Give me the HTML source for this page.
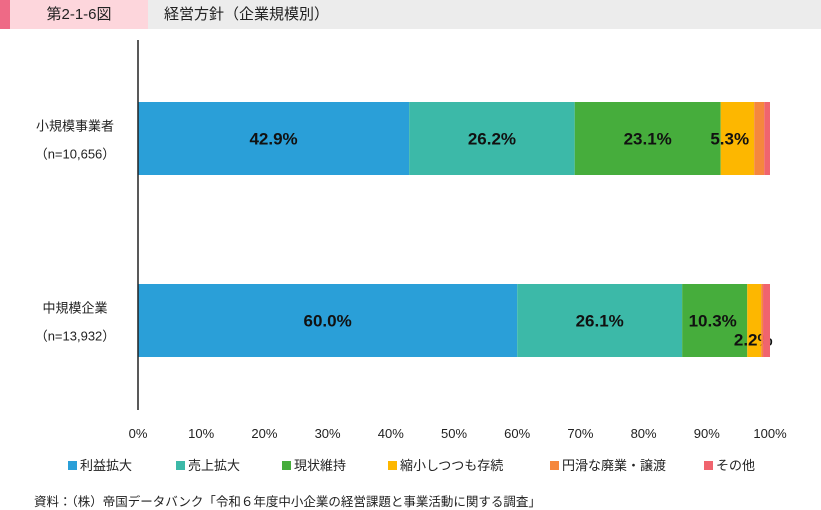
<!DOCTYPE html>
<html><head><meta charset="utf-8"><style>
body{margin:0;width:821px;height:510px;background:#fff;font-family:"Liberation Sans","Noto Sans CJK JP",sans-serif;position:relative;overflow:hidden}
.abs{position:absolute}
</style></head><body>
<div class="abs" style="left:0;top:0;width:10px;height:29px;background:#ee6a86"></div>
<div class="abs" style="left:10px;top:0;width:138px;height:29px;background:#fdd6dc;font-size:15px;line-height:29px;text-align:center;color:#222">第2-1-6図</div>
<div class="abs" style="left:148px;top:0;width:673px;height:29px;background:#ececec;font-size:15px;line-height:29px;color:#222;padding-left:16px;box-sizing:border-box">経営方針（企業規模別）</div>
<svg class="abs" style="left:0;top:0" width="821" height="510" id="chart"></svg>
<div class="abs" style="left:34px;top:491px;font-size:12.5px;color:#222">資料：（株）帝国データバンク「令和６年度中小企業の経営課題と事業活動に関する調査」</div>
<script>
const categories=["小規模事業者","中規模企業"];
const nLabels=["（n=10,656）","（n=13,932）"];
const seriesNames=["利益拡大","売上拡大","現状維持","縮小しつつも存続","円滑な廃業・譲渡","その他"];
const s1=[42.9,26.1-0+0.0,0,0,0,0];
const small=[42.9,26.2,23.1,5.3,1.6,0.9];
const mid=[60.0,26.1,10.3,2.2,0.3,1.1];
const values=[small,mid];
const showLabel=[[true,true,true,true,false,false],[true,true,true,true,false,false]];
const ticks=[0,10,20,30,40,50,60,70,80,90,100];
const colors=["#2a9fd8","#3cb9a8","#46ad3c","#fdb700","#f5873d","#f0646e"];
const svg=document.getElementById('chart');
const NS="http://www.w3.org/2000/svg";
const x=v=>138+v*6.32;
const barY=[102,284],barH=73;
function mk(t,a){const e=document.createElementNS(NS,t);for(const k in a)e.setAttribute(k,a[k]);svg.appendChild(e);return e;}
values.forEach((row,i)=>{let acc=0;row.forEach((v,j)=>{
 const r=mk('rect',{x:x(acc),y:barY[i],width:v*6.32,height:barH,fill:colors[j]});
 
 
 if(showLabel[i][j]){let cx=x(acc+v/2),cy=barY[i]+barH/2+6;
  if(i==0&&j==3)cx=x(acc)+9;
  if(i==1&&j==2)cx=x(acc+v/2)-2;
  if(i==1&&j==3){cx=x(acc)+6;cy=barY[i]+barH/2+25;}
  const t=mk('text',{x:cx,y:cy,'text-anchor':'middle','font-size':17,'font-weight':'bold',fill:'#111'});t.textContent=v.toFixed(1)+'%';
  
  }
 acc+=v;});
 const c=mk('text',{x:75,y:barY[i]+barH/2-8,'text-anchor':'middle','font-size':13,fill:'#222'});c.textContent=categories[i];
 
 
 const n=mk('text',{x:75,y:barY[i]+barH/2+20,'text-anchor':'middle','font-size':13,fill:'#222'});n.textContent=nLabels[i];
 
 
});
const ax=mk('line',{x1:138,y1:40,x2:138,y2:410,stroke:'#222','stroke-width':1.5});


ticks.forEach(tk=>{const t=mk('text',{x:x(tk),y:438,'text-anchor':'middle','font-size':13,fill:'#222'});t.textContent=tk+'%';
 
 });
const legX=[68,176,282,388,550,704];
seriesNames.forEach((s,j)=>{const r=mk('rect',{x:legX[j],y:461,width:9,height:9,fill:colors[j]});
 
 
 const t=mk('text',{x:legX[j]+12,y:470,'font-size':13,fill:'#222'});t.textContent=s;
 
 });
</script>
</body></html>
